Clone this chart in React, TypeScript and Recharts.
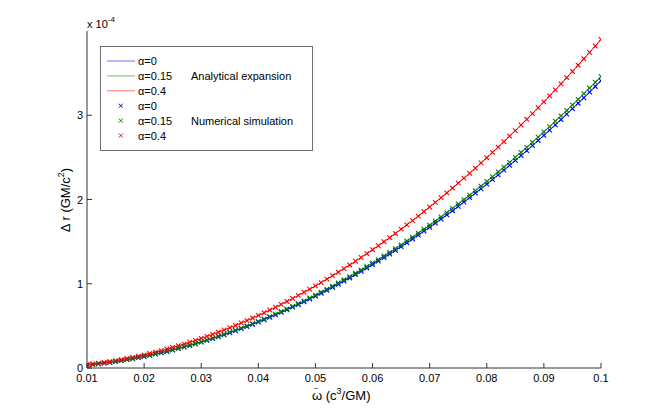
import React from 'react';
import { LineChart, Line, XAxis, YAxis } from 'recharts';

// omega-tilde in units of 1e-3 (c^3/GM)
const OMEGA_MILLI = [
  10, 11, 12, 13, 14, 15, 16, 17, 18, 19,
  20, 21, 22, 23, 24, 25, 26, 27, 28, 29,
  30, 31, 32, 33, 34, 35, 36, 37, 38, 39,
  40, 41, 42, 43, 44, 45, 46, 47, 48, 49,
  50, 51, 52, 53, 54, 55, 56, 57, 58, 59,
  60, 61, 62, 63, 64, 65, 66, 67, 68, 69,
  70, 71, 72, 73, 74, 75, 76, 77, 78, 79,
  80, 81, 82, 83, 84, 85, 86, 87, 88, 89,
  90, 91, 92, 93, 94, 95, 96, 97, 98, 99,
  100,
];

// Delta r in units of 1e-4 (GM/c^2)
const DR_ALPHA_0 = [
  0.034, 0.041, 0.049, 0.058, 0.067, 0.077, 0.087, 0.099, 0.110, 0.123,
  0.136, 0.150, 0.165, 0.180, 0.196, 0.213, 0.231, 0.249, 0.267, 0.287,
  0.307, 0.328, 0.349, 0.371, 0.394, 0.418, 0.442, 0.467, 0.492, 0.519,
  0.546, 0.573, 0.602, 0.631, 0.660, 0.691, 0.722, 0.753, 0.786, 0.819,
  0.853, 0.887, 0.922, 0.958, 0.994, 1.032, 1.069, 1.108, 1.147, 1.187,
  1.228, 1.269, 1.311, 1.353, 1.397, 1.441, 1.485, 1.531, 1.577, 1.624,
  1.671, 1.719, 1.768, 1.817, 1.867, 1.918, 1.970, 2.022, 2.075, 2.128,
  2.182, 2.237, 2.293, 2.349, 2.406, 2.464, 2.522, 2.581, 2.641, 2.701,
  2.762, 2.824, 2.886, 2.949, 3.013, 3.078, 3.143, 3.208, 3.275, 3.342,
  3.410,
];

const DR_ALPHA_015 = [
  0.035, 0.042, 0.050, 0.058, 0.068, 0.078, 0.089, 0.100, 0.112, 0.125,
  0.138, 0.153, 0.167, 0.183, 0.199, 0.216, 0.234, 0.252, 0.271, 0.291,
  0.311, 0.333, 0.354, 0.377, 0.400, 0.424, 0.448, 0.474, 0.500, 0.526,
  0.554, 0.582, 0.610, 0.640, 0.670, 0.701, 0.732, 0.764, 0.797, 0.831,
  0.865, 0.900, 0.936, 0.972, 1.009, 1.047, 1.085, 1.124, 1.164, 1.204,
  1.246, 1.287, 1.330, 1.373, 1.417, 1.462, 1.507, 1.553, 1.600, 1.647,
  1.695, 1.744, 1.794, 1.844, 1.895, 1.946, 1.998, 2.051, 2.105, 2.159,
  2.214, 2.270, 2.327, 2.384, 2.441, 2.500, 2.559, 2.619, 2.679, 2.741,
  2.803, 2.865, 2.929, 2.993, 3.057, 3.123, 3.189, 3.256, 3.323, 3.391,
  3.460,
];

const DR_ALPHA_04 = [
  0.039, 0.047, 0.056, 0.066, 0.076, 0.088, 0.100, 0.113, 0.126, 0.141,
  0.156, 0.172, 0.189, 0.206, 0.225, 0.244, 0.264, 0.284, 0.306, 0.328,
  0.351, 0.375, 0.399, 0.425, 0.451, 0.478, 0.505, 0.534, 0.563, 0.593,
  0.624, 0.656, 0.688, 0.721, 0.755, 0.790, 0.825, 0.862, 0.899, 0.936,
  0.975, 1.014, 1.055, 1.096, 1.137, 1.180, 1.223, 1.267, 1.312, 1.358,
  1.404, 1.451, 1.499, 1.548, 1.597, 1.648, 1.699, 1.751, 1.803, 1.857,
  1.911, 1.966, 2.022, 2.078, 2.136, 2.194, 2.253, 2.312, 2.373, 2.434,
  2.496, 2.559, 2.622, 2.687, 2.752, 2.818, 2.884, 2.952, 3.020, 3.089,
  3.159, 3.230, 3.301, 3.373, 3.446, 3.520, 3.594, 3.670, 3.746, 3.822,
  3.900,
];

const X_TICKS = [0.01, 0.02, 0.03, 0.04, 0.05, 0.06, 0.07, 0.08, 0.09, 0.1];
const Y_TICKS = [0, 1, 2, 3];
const X_DOMAIN = [0.01, 0.1];
const Y_DOMAIN = [0, 4];

const data = OMEGA_MILLI.map((m, i) => ({
  w: m / 1000,
  a0: DR_ALPHA_0[i],
  a15: DR_ALPHA_015[i],
  a40: DR_ALPHA_04[i],
}));

const FONT = '"Liberation Sans", Arial, Helvetica, sans-serif';
const AXIS_COLOR = '#333333';
const TICK_LEN = 5;
const BLUE = '#0000ff';
const GREEN = '#008000';
const RED = '#ff0000';

const fmtX = (v: number) => String(Number(v.toFixed(2)));

const BottomTick = (p: any) => (
  <g>
    <line x1={p.x} x2={p.x} y1={p.y} y2={p.y - TICK_LEN} stroke={AXIS_COLOR} strokeWidth={1} />
    <text x={p.x} y={p.y + 14} textAnchor="middle" fontSize={11} fontFamily={FONT} fill="#000">
      {fmtX(p.payload.value)}
    </text>
  </g>
);

const TopTick = (p: any) => (
  <line x1={p.x} x2={p.x} y1={p.y} y2={p.y + TICK_LEN} stroke={AXIS_COLOR} strokeWidth={1} />
);

const LeftTick = (p: any) => (
  <g>
    <line x1={p.x} x2={p.x + TICK_LEN} y1={p.y} y2={p.y} stroke={AXIS_COLOR} strokeWidth={1} />
    <text x={p.x - 4} y={p.y + 4} textAnchor="end" fontSize={11} fontFamily={FONT} fill="#000">
      {String(p.payload.value)}
    </text>
  </g>
);

const RightTick = (p: any) => (
  <line x1={p.x} x2={p.x - TICK_LEN} y1={p.y} y2={p.y} stroke={AXIS_COLOR} strokeWidth={1} />
);

const xDot = (color: string) => (p: any) => {
  const { cx, cy, index } = p;
  if (cx == null || cy == null) return <g key={`n-${index}`} />;
  const s = 2.3;
  return (
    <path
      key={`x-${color}-${index}`}
      d={`M${cx - s},${cy - s}L${cx + s},${cy + s}M${cx - s},${cy + s}L${cx + s},${cy - s}`}
      stroke={color}
      strokeWidth={1.1}
      fill="none"
    />
  );
};

const LEGEND_ROWS = [
  { label: 'α=0', color: BLUE, kind: 'line' },
  { label: 'α=0.15', color: GREEN, kind: 'line' },
  { label: 'α=0.4', color: RED, kind: 'line' },
  { label: 'α=0', color: BLUE, kind: 'marker' },
  { label: 'α=0.15', color: GREEN, kind: 'marker' },
  { label: 'α=0.4', color: RED, kind: 'marker' },
];

export default function App() {
  return (
    <div style={{ position: 'absolute', left: 0, top: 0, width: 664, height: 415, background: '#fff' }}>
      <LineChart
        width={664}
        height={415}
        data={data}
        margin={{ top: 31, right: 63, bottom: 0, left: 0 }}
      >
        <XAxis
          xAxisId="b"
          dataKey="w"
          type="number"
          domain={X_DOMAIN}
          ticks={X_TICKS}
          allowDataOverflow
          orientation="bottom"
          height={47}
          tickSize={0}
          tickMargin={0}
          tickLine={false}
          axisLine={{ stroke: AXIS_COLOR, strokeWidth: 1 }}
          tick={BottomTick}
          interval={0}
        />
        <XAxis
          xAxisId="t"
          dataKey="w"
          type="number"
          domain={X_DOMAIN}
          ticks={X_TICKS}
          allowDataOverflow
          orientation="top"
          height={0}
          tickSize={0}
          tickMargin={0}
          tickLine={false}
          axisLine={{ stroke: AXIS_COLOR, strokeWidth: 1 }}
          tick={TopTick}
          interval={0}
        />
        <YAxis
          yAxisId="l"
          type="number"
          domain={Y_DOMAIN}
          ticks={Y_TICKS}
          allowDataOverflow
          orientation="left"
          width={87}
          tickSize={0}
          tickMargin={0}
          tickLine={false}
          axisLine={{ stroke: AXIS_COLOR, strokeWidth: 1 }}
          tick={LeftTick}
          interval={0}
        />
        <YAxis
          yAxisId="r"
          type="number"
          domain={Y_DOMAIN}
          ticks={Y_TICKS}
          allowDataOverflow
          orientation="right"
          width={0}
          tickSize={0}
          tickMargin={0}
          tickLine={false}
          axisLine={{ stroke: AXIS_COLOR, strokeWidth: 1 }}
          tick={RightTick}
          interval={0}
        />
        <Line xAxisId="b" yAxisId="l" type="linear" dataKey="a0" stroke={BLUE} strokeWidth={1} dot={false} activeDot={false} isAnimationActive={false} />
        <Line xAxisId="b" yAxisId="l" type="linear" dataKey="a15" stroke={GREEN} strokeWidth={1} dot={false} activeDot={false} isAnimationActive={false} />
        <Line xAxisId="b" yAxisId="l" type="linear" dataKey="a40" stroke={RED} strokeWidth={1} dot={false} activeDot={false} isAnimationActive={false} />
        <Line xAxisId="t" yAxisId="r" type="linear" dataKey="a0" stroke="none" strokeWidth={0} dot={xDot(BLUE)} activeDot={false} isAnimationActive={false} />
        <Line xAxisId="t" yAxisId="r" type="linear" dataKey="a15" stroke="none" strokeWidth={0} dot={xDot(GREEN)} activeDot={false} isAnimationActive={false} />
        <Line xAxisId="t" yAxisId="r" type="linear" dataKey="a40" stroke="none" strokeWidth={0} dot={xDot(RED)} activeDot={false} isAnimationActive={false} />
      </LineChart>
      <svg
        width={664}
        height={415}
        style={{ position: 'absolute', left: 0, top: 0, pointerEvents: 'none' }}
        fontFamily={FONT}
      >
        <text x={87} y={28} fontSize={11} fill="#000">
          x 10<tspan fontSize={8} dy={-6}>-4</tspan>
        </text>
        <text x={312} y={400} fontSize={13} fill="#000" textAnchor="start">
          {'\u03C9 (c'}
          <tspan fontSize={9} dy={-6}>3</tspan>
          <tspan dy={6}>/GM)</tspan>
        </text>
        <text x={316} y={391} fontSize={8} fill="#000" textAnchor="middle">~</text>
        <text x={70} y={200} fontSize={13} fill="#000" textAnchor="middle" transform="rotate(-90 70 200)">
          {'\u0394 r (GM/c'}
          <tspan fontSize={9} dy={-6}>2</tspan>
          <tspan dy={6}>)</tspan>
        </text>
        <rect x={100.5} y={46.5} width={212} height={104} fill="#fff" stroke="#707070" strokeWidth={1} />
        {LEGEND_ROWS.map((r, i) => {
          const cy = 61 + i * 14.9;
          return (
            <g key={i}>
              {r.kind === 'line' ? (
                <line x1={107} x2={135} y1={cy} y2={cy} stroke={r.color} strokeWidth={1} opacity={0.55} />
              ) : (
                <path
                  d={`M${118.8},${cy - 2}L${122.8},${cy + 2}M${118.8},${cy + 2}L${122.8},${cy - 2}`}
                  stroke={r.color}
                  strokeWidth={1}
                  fill="none"
                />
              )}
              <text x={138} y={cy + 4} fontSize={11} fill="#000">{r.label}</text>
            </g>
          );
        })}
        <text x={191} y={61 + 14.9 + 4} fontSize={11} fill="#000">Analytical expansion</text>
        <text x={191} y={61 + 4 * 14.9 + 4} fontSize={11} fill="#000">Numerical simulation</text>
      </svg>
    </div>
  );
}
